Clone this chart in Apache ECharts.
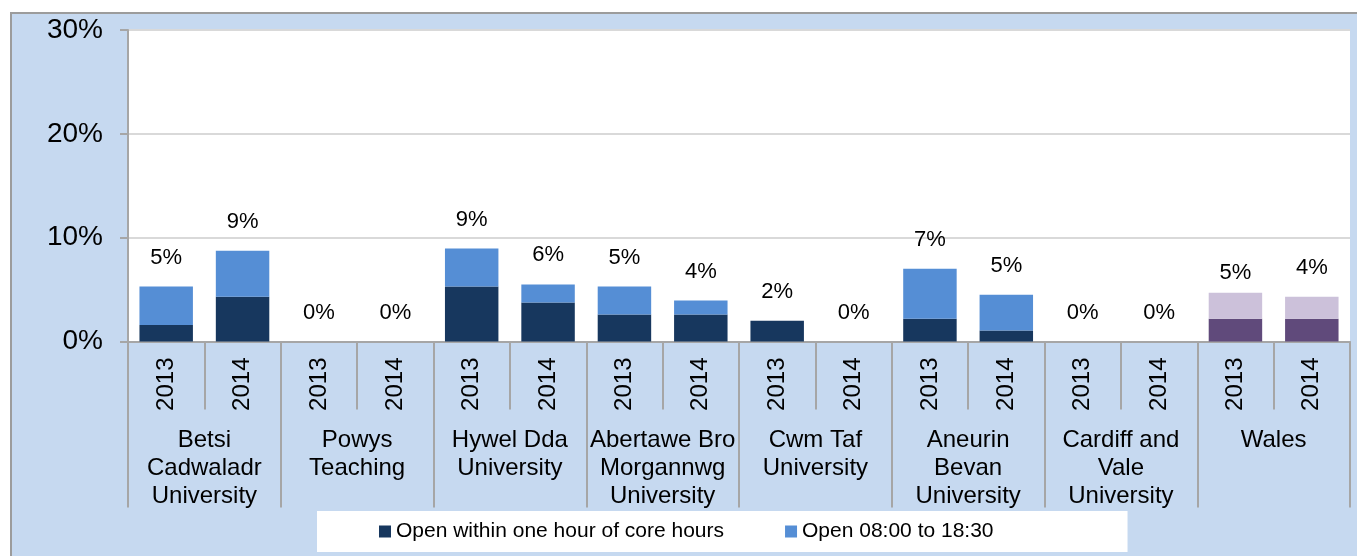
<!DOCTYPE html>
<html>
<head>
<meta charset="utf-8">
<script src="https://cdn.jsdelivr.net/npm/echarts@6/dist/echarts.min.js"></script>
<style>
html,body{margin:0;padding:0;background:#ffffff;width:1357px;height:556px;overflow:hidden;}
#bg{position:absolute;left:10px;top:12px;width:1347px;height:544px;background:#C6D9F0;border-left:2px solid #9C9C9C;border-top:2px solid #9C9C9C;box-sizing:border-box;}
#chart{position:absolute;left:0;top:0;width:1357px;height:556px;}
</style>
</head>
<body>
<div id="bg"></div>
<div id="chart"></div>
<script>
// ---- data ----
const years = ['2013','2014','2013','2014','2013','2014','2013','2014','2013','2014','2013','2014','2013','2014','2013','2014'];
const groups = ['Betsi\nCadwaladr\nUniversity','Powys\nTeaching','Hywel Dda\nUniversity','Abertawe Bro\nMorgannwg\nUniversity','Cwm Taf\nUniversity','Aneurin\nBevan\nUniversity','Cardiff and\nVale\nUniversity','Wales'];
const seriesNames = ['Open within one hour of core hours','Open 08:00 to 18:30'];
const withinHour = [1.6, 4.3, 0, 0, 5.3, 3.75, 2.6, 2.6, 2.0, 0, 2.2, 1.05, 0, 0, 2.2, 2.2];
const openDay    = [3.7, 4.45, 0, 0, 3.65, 1.75, 2.7, 1.35, 0, 0, 4.8, 3.45, 0, 0, 2.5, 2.1];
const totalLabels = ['5%','9%','0%','0%','9%','6%','5%','4%','2%','0%','7%','5%','0%','0%','5%','4%'];
const yTicks = [0, 10, 20, 30];

// ---- styling ----
const navy = '#17375E', lightBlue = '#558ED5', purpleDark = '#604A7B', purpleLight = '#CCC1DA';
const axisGrey = '#A6A6A6';
const font = 'Liberation Sans, Arial, sans-serif';
const walesIdx = [14, 15];

function build(vals, walesColor) {
  return vals.map((v, i) => walesIdx.includes(i) ? {value: v, itemStyle: {color: walesColor}} : v);
}

const chart = echarts.init(document.getElementById('chart'), null, {renderer: 'canvas'});
chart.setOption({
  backgroundColor: 'transparent',
  animation: false,
  textStyle: {fontFamily: font},
  grid: {left: 128, right: 7, top: 30, bottom: 214.5, show: true, backgroundColor: '#ffffff', borderWidth: 0},
  legend: {
    data: seriesNames,
    left: 317, top: 511,
    padding: [10, 134, 10, 62],
    backgroundColor: '#ffffff',
    itemWidth: 12, itemHeight: 12, itemGap: 61,
    icon: 'rect',
    textStyle: {fontSize: 21, color: '#000', fontFamily: font}
  },
  xAxis: [
    {
      type: 'category', data: years, position: 'bottom',
      axisLine: {show: true, lineStyle: {color: axisGrey, width: 2}},
      axisTick: {show: true, interval: 0, length: 68, lineStyle: {color: axisGrey, width: 2}},
      axisLabel: {interval: 0, rotate: 90, margin: 16, fontSize: 24, color: '#000', fontFamily: font}
    },
    {
      type: 'category', data: groups, position: 'bottom', offset: 0,
      axisLine: {show: false},
      axisTick: {show: true, interval: 0, length: 166, lineStyle: {color: axisGrey, width: 2}},
      axisLabel: {interval: 0, margin: 85, fontSize: 24, lineHeight: 28, color: '#000', fontFamily: font}
    }
  ],
  yAxis: {
    type: 'value', min: yTicks[0], max: yTicks[yTicks.length-1], interval: 10,
    axisLine: {show: true, lineStyle: {color: axisGrey, width: 2}},
    axisTick: {show: true, length: 8, lineStyle: {color: axisGrey, width: 2}},
    axisLabel: {formatter: '{value}%', fontSize: 28, color: '#000', margin: 25, fontFamily: font},
    splitLine: {show: true, lineStyle: {color: '#D9D9D9', width: 2}}
  },
  series: [
    {
      name: seriesNames[0], type: 'bar', stack: 'a', xAxisIndex: 0,
      barCategoryGap: '30%',
      itemStyle: {color: navy},
      data: build(withinHour, purpleDark)
    },
    {
      name: seriesNames[1], type: 'bar', stack: 'a', xAxisIndex: 0,
      barCategoryGap: '30%',
      itemStyle: {color: lightBlue},
      data: build(openDay, purpleLight)
    },
    {
      name: 'total', type: 'bar', stack: 'a', xAxisIndex: 0,
      barCategoryGap: '30%',
      itemStyle: {color: 'rgba(0,0,0,0)'},
      data: totalLabels.map((t, i) => i === 14 ? {value: 0, label: {distance: 9}} : 0),
      label: {
        show: true, position: 'top', distance: 18,
        fontSize: 22, color: '#000', fontFamily: font,
        formatter: p => totalLabels[p.dataIndex]
      }
    }
  ]
});
</script>
</body>
</html>
